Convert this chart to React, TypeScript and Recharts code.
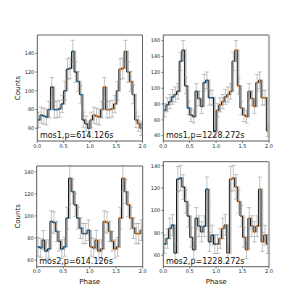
import React from "react";
import {
  ComposedChart,
  Line,
  Scatter,
  ErrorBar,
  XAxis,
  YAxis,
  ReferenceLine,
  ReferenceDot,
} from "recharts";

// ─── Data (one rotation; the second cycle repeats it) ─────────────────────────

const PHASE = [
  0.025, 0.075, 0.125, 0.175, 0.225, 0.275, 0.325, 0.375, 0.425, 0.475,
  0.525, 0.575, 0.625, 0.675, 0.725, 0.775, 0.825, 0.875, 0.925, 0.975,
];

const MOS1_614 = [69, 74, 73, 72, 80, 104, 80, 80, 81, 86, 100, 123, 124, 142, 120, 110, 96, 69, 65, 60];
const MOS1_614_ERR = [8.3, 8.6, 8.5, 8.5, 8.9, 10.2, 8.9, 8.9, 9, 9.3, 10, 11.1, 11.1, 11.9, 11, 10.5, 9.8, 8.3, 8.1, 7.7];

const MOS1_1228 = [72, 79, 83, 89, 92, 96, 134, 148, 103, 75, 66, 64, 96, 87, 77, 107, 110, 88, 88, 46];
const MOS1_1228_ERR = [8.5, 8.9, 9.1, 9.4, 9.6, 9.8, 11.6, 12.2, 10.1, 8.7, 8.1, 8, 9.8, 9.3, 8.8, 10.3, 10.5, 9.4, 9.4, 6.8];

const MOS2_614 = [72, 71, 78, 68, 70, 95, 94, 86, 77, 70, 72, 98, 134, 122, 110, 98, 89, 84, 84, 87];
const MOS2_614_ERR = [8.5, 8.4, 8.8, 8.2, 8.4, 9.7, 9.7, 9.3, 8.8, 8.4, 8.5, 9.9, 11.6, 11, 10.5, 9.9, 9.4, 9.2, 9.2, 9.3];

const MOS2_1228 = [70, 75, 84, 87, 62, 128, 129, 121, 108, 95, 76, 65, 93, 86, 81, 86, 119, 72, 78, 70];
const MOS2_1228_ERR = [8.4, 8.7, 9.2, 9.3, 7.9, 11.3, 11.4, 11, 10.4, 9.7, 8.7, 8.1, 9.6, 9.3, 9, 9.3, 10.9, 8.5, 8.8, 8.4];

const X_TICKS = [0, 0.5, 1, 1.5, 2];
const Y_TICKS_A = [60, 80, 100, 120, 140];
const Y_TICKS_B = [40, 60, 80, 100, 120, 140, 160];

const FONT = "DejaVu Sans, sans-serif";
const BLUE = "#1f77b4";
const ORANGE = "#ff7f0e";

type Row = { x: number; y: number; e: number };

function buildRows(counts: number[], errs: number[]): Row[] {
  const rows: Row[] = [];
  for (const cycle of [0, 1]) {
    PHASE.forEach((ph, i) => rows.push({ x: ph + cycle, y: counts[i], e: errs[i] }));
  }
  return rows;
}

interface PanelSpec {
  title: string;
  counts: number[];
  errs: number[];
  left: number;
  top: number;
  width: number;
  height: number;
  margin: { top: number; right: number; bottom: number; left: number };
  yWidth: number;
  xHeight: number;
  domain: [number, number];
  yTicks: number[];
  counts_label: boolean;
  phase_label: boolean;
  thickTop?: boolean;
  thickRight?: boolean;
}

const PANELS: PanelSpec[] = [
  {
    title: "mos1,p=614.126s",
    counts: MOS1_614,
    errs: MOS1_614_ERR,
    left: 0, top: 0, width: 150, height: 160,
    margin: { top: 35, right: 7.5, bottom: 0, left: 0 },
    yWidth: 37.3, xHeight: 19,
    domain: [46.5, 159.5], yTicks: Y_TICKS_A,
    counts_label: true, phase_label: false, thickTop: true,
  },
  {
    title: "mos1,p=1228.272s",
    counts: MOS1_1228,
    errs: MOS1_1228_ERR,
    left: 140, top: 0, width: 159, height: 160,
    margin: { top: 35, right: 30, bottom: 0, left: 0 },
    yWidth: 23.3, xHeight: 19,
    domain: [33.3, 167.2], yTicks: Y_TICKS_B,
    counts_label: false, phase_label: false, thickRight: true,
  },
  {
    title: "mos2,p=614.126s",
    counts: MOS2_614,
    errs: MOS2_614_ERR,
    left: 0, top: 150, width: 150, height: 149,
    margin: { top: 16, right: 7.3, bottom: 0, left: 0 },
    yWidth: 36.7, xHeight: 32.3,
    domain: [54, 145.2], yTicks: Y_TICKS_A,
    counts_label: true, phase_label: true,
  },
  {
    title: "mos2,p=1228.272s",
    counts: MOS2_1228,
    errs: MOS2_1228_ERR,
    left: 140, top: 150, width: 159, height: 149,
    margin: { top: 11.7, right: 30, bottom: 0, left: 0 },
    yWidth: 23.3, xHeight: 32.3,
    domain: [49.8, 143.6], yTicks: Y_TICKS_A,
    counts_label: false, phase_label: true, thickRight: true,
  },
];

const tickStyle = { fontSize: 5, fill: "#222", fontFamily: FONT };
const spine = { stroke: "#333", strokeWidth: 0.8 };

function dotShape(color: string) {
  return (props: any) => <circle cx={props.cx} cy={props.cy} r={0.9} fill={color} />;
}

function PhasePanel({ p }: { p: PanelSpec }) {
  const rows = buildRows(p.counts, p.errs);
  const firstCycle = rows.slice(0, PHASE.length);
  const secondCycle = rows.slice(PHASE.length);
  const [lo, hi] = p.domain;

  return (
    <div style={{ position: "absolute", left: p.left, top: p.top }}>
      <ComposedChart width={p.width} height={p.height} data={rows} margin={p.margin}>
        <XAxis
          type="number"
          dataKey="x"
          domain={[0, 2]}
          ticks={X_TICKS}
          allowDataOverflow
          tickFormatter={(v: number) => v.toFixed(1)}
          height={p.xHeight}
          tickSize={2}
          tickMargin={1}
          tick={tickStyle}
          axisLine={spine}
          tickLine={{ stroke: "#333", strokeWidth: 0.6 }}
          label={
            p.phase_label
              ? { value: "Phase", position: "insideBottom", offset: 15, style: { fontSize: 7, fill: "#111", fontFamily: FONT } }
              : undefined
          }
        />
        <YAxis
          type="number"
          dataKey="y"
          domain={p.domain}
          ticks={p.yTicks}
          allowDataOverflow
          width={p.yWidth}
          tickSize={2}
          tickMargin={1}
          tick={tickStyle}
          axisLine={spine}
          tickLine={{ stroke: "#333", strokeWidth: 0.6 }}
          label={
            p.counts_label
              ? { value: "Counts", angle: -90, position: "center", dx: -1, style: { fontSize: 7, fill: "#111", fontFamily: FONT } }
              : undefined
          }
        />

        <ReferenceLine
          y={hi}
          stroke={p.thickTop ? "#b4b4b4" : "#333"}
          strokeWidth={p.thickTop ? 2.2 : 0.8}
        />
        <ReferenceLine
          x={2}
          stroke={p.thickRight ? "#b4b4b4" : "#333"}
          strokeWidth={p.thickRight ? 2.2 : 0.8}
        />

        <Line
          dataKey="y"
          type="stepAfter"
          stroke="#b8b8b8"
          strokeWidth={1.6}
          dot={false}
          isAnimationActive={false}
        />
        <Line
          dataKey="y"
          type="step"
          stroke="#000"
          strokeWidth={0.9}
          dot={false}
          isAnimationActive={false}
        />

        <Scatter data={firstCycle} dataKey="y" shape={dotShape(BLUE)} isAnimationActive={false}>
          <ErrorBar dataKey="e" direction="y" width={2.2} stroke="#8a8a8a" strokeWidth={0.5} />
        </Scatter>
        <Scatter data={secondCycle} dataKey="y" shape={dotShape(ORANGE)} isAnimationActive={false}>
          <ErrorBar dataKey="e" direction="y" width={2.2} stroke="#8a8a8a" strokeWidth={0.5} />
        </Scatter>

        <ReferenceDot
          x={0.05}
          y={lo}
          r={0.01}
          fill="none"
          stroke="none"
          label={(props: any) => (
            <text
              x={props.viewBox.x}
              y={props.viewBox.y - 2.5}
              fontSize={8}
              fontFamily={FONT}
              fill="#111"
            >
              {p.title}
            </text>
          )}
        />
      </ComposedChart>
    </div>
  );
}

export default function App() {
  return (
    <div
      style={{
        position: "absolute",
        left: 0,
        top: 0,
        width: 299,
        height: 299,
        background: "#fff",
        overflow: "hidden",
      }}
    >
      {PANELS.map((p) => (
        <PhasePanel key={p.title} p={p} />
      ))}
    </div>
  );
}
